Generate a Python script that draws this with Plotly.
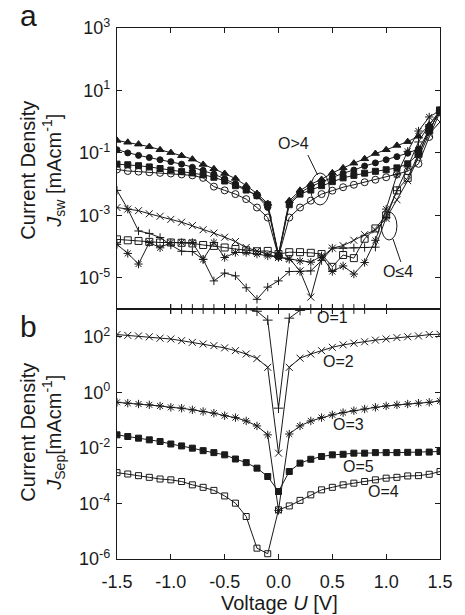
import plotly.graph_objects as go

# ---------------- data ----------------
voltage = [-1.5, -1.4, -1.3, -1.2, -1.1, -1.0, -0.9, -0.8, -0.7, -0.6, -0.5,
           -0.4, -0.3, -0.2, -0.1, 0.0, 0.1, 0.2, 0.3, 0.4, 0.5,
           0.6, 0.7, 0.8, 0.9, 1.0, 1.1, 1.2, 1.3, 1.4, 1.5]

# Panel a: J_sw, values given as log10(J)
a_tri_log = [-0.60, -0.66, -0.72, -0.80, -0.90, -0.99, -1.09, -1.20, -1.37, -1.51, -1.66,
             -1.82, -2.05, -2.30, -2.62, -4.25, -2.53, -2.20, -2.00, -1.85, -1.64,
             -1.48, -1.33, -1.19, -1.02, -0.90, -0.76, -0.64, -0.47, -0.10, 0.36]
a_fcirc_log = [-0.90, -1.00, -1.08, -1.15, -1.22, -1.28, -1.36, -1.46, -1.56, -1.68, -1.83,
               -1.99, -2.17, -2.38, -2.75, -4.28, -2.60, -2.27, -2.08, -1.93, -1.78,
               -1.65, -1.55, -1.42, -1.32, -1.22, -1.12, -1.01, -0.87, -0.28, 0.36]
a_fsq_log = [-1.36, -1.38, -1.41, -1.45, -1.50, -1.55, -1.60, -1.64, -1.70, -1.78, -1.90,
             -2.05, -2.19, -2.37, -2.66, -4.30, -2.66, -2.32, -2.19, -2.05, -1.92,
             -1.80, -1.72, -1.65, -1.59, -1.54, -1.48, -1.35, -1.03, -0.28, 0.36]
a_ocirc_log = [-1.53, -1.58, -1.60, -1.62, -1.64, -1.66, -1.69, -1.72, -1.80, -2.08, -2.20,
               -2.32, -2.48, -2.75, -3.07, -4.32, -3.07, -2.75, -2.53, -2.32, -2.21,
               -2.10, -2.02, -1.94, -1.86, -1.78, -1.68, -1.59, -1.35, -0.49, 0.31]
a_plus_log = [-2.20, -2.80, -3.50, -3.58, -3.71, -3.95, -4.15, -4.16, -4.41, -5.10, -4.85,
              -4.94, -5.32, -5.69, -5.30, -5.10, -4.80, -4.80, -4.78, -4.45, -4.05,
              -4.05, -4.04, -4.03, -4.02, -3.07, -2.21, -1.45, -0.65, -0.10, 0.30]
a_x_log = [-2.75, -2.80, -2.85, -2.95, -3.03, -3.13, -3.22, -3.33, -3.46, -3.57, -3.70,
           -3.84, -4.03, -4.14, -4.24, -4.35, -4.38, -4.78, -5.62, -4.35, -4.05,
           -3.97, -3.80, -3.62, -3.47, -3.10, -2.50, -1.89, -1.14, -0.39, -0.01]
a_ast_log = [-3.93, -4.22, -4.56, -3.87, -4.04, -3.87, -3.87, -3.87, -4.41, -3.87, -4.35,
             -4.19, -4.19, -4.24, -4.30, -4.35, -4.41, -4.46, -4.50, -4.30, -4.80,
             -4.62, -4.88, -4.51, -3.80, -2.80, -1.70, -0.95, -0.30, 0.15, 0.36]
a_osq_log = [-3.77, -3.80, -3.82, -3.85, -3.87, -3.87, -3.88, -3.90, -3.95, -3.98, -4.03,
             -4.08, -4.12, -4.15, -4.14, -4.24, -4.18, -4.18, -4.20, -4.24, -4.65,
             -4.27, -4.37, -3.75, -3.42, -3.00, -2.20, -1.80, -1.03, -0.28, 0.36]

# Panel b: J_Sep, values given as log10(J); None = beyond the top of the axis
b_o1_log = [None, None, None, None, None, 3.0, 3.0, 3.0, 3.0, 3.0, 3.0,
            3.0, 3.0, 2.92, 2.60, -0.57, 2.67, 2.95, 3.0, 3.0, 3.0,
            3.0, 3.0, 3.0, None, None, None, None, None, None, None]
b_o2_log = [2.08, 2.05, 2.03, 2.00, 1.95, 1.92, 1.86, 1.80, 1.74, 1.68, 1.60,
            1.50, 1.38, 1.22, 0.90, -2.19, 0.90, 1.23, 1.38, 1.50, 1.62,
            1.71, 1.77, 1.82, 1.88, 1.92, 1.97, 2.00, 2.03, 2.08, 2.09]
b_o3_log = [-0.36, -0.39, -0.42, -0.45, -0.49, -0.54, -0.57, -0.63, -0.69, -0.75, -0.84,
            -0.91, -1.03, -1.21, -1.53, -4.25, -1.50, -1.21, -1.03, -0.91, -0.81,
            -0.73, -0.66, -0.60, -0.54, -0.49, -0.45, -0.42, -0.39, -0.36, -0.31]
b_o5_log = [-1.53, -1.59, -1.65, -1.71, -1.77, -1.86, -1.93, -2.01, -2.10, -2.17, -2.25,
            -2.40, -2.53, -2.73, -3.03, -3.57, -2.85, -2.55, -2.41, -2.31, -2.25,
            -2.23, -2.19, -2.19, -2.17, -2.17, -2.17, -2.16, -2.16, -2.15, -2.13]
b_o4_log = [-2.89, -2.94, -3.00, -3.06, -3.12, -3.15, -3.21, -3.33, -3.42, -3.53, -3.73,
            -3.99, -4.47, -5.61, -5.81, -4.23, -4.09, -3.89, -3.69, -3.51, -3.42,
            -3.33, -3.27, -3.21, -3.15, -3.09, -3.06, -3.01, -3.00, -2.95, -2.85]

a_tickvals = [1e3, 1e1, 1e-1, 1e-3, 1e-5]
a_ticktext = ["10<sup>3</sup>", "10<sup>1</sup>", "10<sup>-1</sup>", "10<sup>-3</sup>", "10<sup>-5</sup>"]
b_tickvals = [1e2, 1e0, 1e-2, 1e-4, 1e-6]
b_ticktext = ["10<sup>2</sup>", "10<sup>0</sup>", "10<sup>-2</sup>", "10<sup>-4</sup>", "10<sup>-6</sup>"]
x_tickvals = [-1.5, -1.0, -0.5, 0.0, 0.5, 1.0, 1.5]
x_ticktext = ["-1.5", "-1.0", "-0.5", "0.0", "0.5", "1.0", "1.5"]

# ---------------- figure ----------------
INK = "#1a1a1a"
FONT = "Liberation Sans, Arial, Helvetica, sans-serif"


def lin(vals):
    return [None if v is None else 10 ** v for v in vals]


fig = go.Figure()


def add(vals, symbol, size, xa, ya, clip=True, lw=1.0):
    fig.add_trace(go.Scatter(
        x=voltage, y=lin(vals), mode="lines+markers", xaxis=xa, yaxis=ya,
        line=dict(color=INK, width=1),
        marker=dict(symbol=symbol, size=size, color=INK,
                    line=dict(color=INK, width=lw)),
        cliponaxis=clip, hoverinfo="skip"))


# panel a
add(a_osq_log, "square-open", 7, "x", "y")
add(a_ast_log, "asterisk-open", 7, "x", "y")
add(a_x_log, "x-thin-open", 7, "x", "y")
add(a_plus_log, "cross-thin-open", 6, "x", "y")
add(a_ocirc_log, "circle-open", 7, "x", "y")
add(a_fsq_log, "square", 6, "x", "y")
add(a_fcirc_log, "circle", 6, "x", "y")
add(a_tri_log, "triangle-up", 7, "x", "y")

# panel b
add(b_o1_log, "cross-thin-open", 7, "x2", "y2", clip=False)
add(b_o2_log, "x-thin-open", 7, "x2", "y2")
add(b_o3_log, "asterisk-open", 7, "x2", "y2")
add(b_o5_log, "square", 6, "x2", "y2")
add(b_o4_log, "square-open", 6, "x2", "y2")

split = 250 / 531.0

common_x = dict(range=[-1.5, 1.5], tickvals=x_tickvals, ticktext=x_ticktext,
                ticks="inside", ticklen=5, tickwidth=1, tickcolor=INK,
                showline=True, linecolor=INK, linewidth=1.3, mirror="ticks",
                showgrid=False, zeroline=False)
common_y = dict(type="log", range=[-6, 3], ticks="inside", ticklen=5, tickwidth=1,
                tickcolor=INK, showline=True, linecolor=INK, linewidth=1.3,
                mirror="ticks", showgrid=False, zeroline=False,
                tickfont=dict(size=18, color=INK), ticklabelstandoff=2)

fig.update_layout(
    width=465, height=615,
    margin=dict(l=117, r=18, t=28, b=56, pad=0),
    plot_bgcolor="white", paper_bgcolor="white",
    showlegend=False,
    font=dict(family=FONT, size=18, color=INK),
    xaxis=dict(common_x, anchor="y", domain=[0, 1], showticklabels=False),
    yaxis=dict(common_y, anchor="x", domain=[split, 1],
               tickvals=a_tickvals, ticktext=a_ticktext),
    xaxis2=dict(common_x, anchor="y2", domain=[0, 1],
                tickfont=dict(size=18, color=INK), ticklabelstandoff=6),
    yaxis2=dict(common_y, anchor="x2", domain=[0, split],
                tickvals=b_tickvals, ticktext=b_ticktext),
)


def px2paper(px, py):
    return (px - 117) / 330.0, (559 - py) / 531.0


annotations = []


def note(text, px, py, size=16, angle=0, xanchor="center", yanchor="middle"):
    x, y = px2paper(px, py)
    annotations.append(dict(text=text, x=x, y=y, xref="paper", yref="paper",
                            showarrow=False, textangle=angle,
                            xanchor=xanchor, yanchor=yanchor,
                            font=dict(family=FONT, size=size, color=INK)))


note("a", 27, 16, size=30)
note("b", 27, 326, size=30)
note("Current Density<br><i>J</i><sub>sw</sub> [mAcm<sup>-1</sup>]", 40, 170, size=20, angle=-90)
note("Current Density<br><i>J</i><sub>Sep</sub>[mAcm<sup>-1</sup>]", 40, 432, size=20, angle=-90)
note("Voltage <i>U</i> [V]", 283, 603, size=20)
note("O&gt;4", 297, 144)
note("O≤4", 404, 271)
note("O=1", 337, 318)
note("O=2", 343, 361)
note("O=3", 354, 424)
note("O=5", 364, 466)
note("O=4", 389, 491)
fig.update_layout(annotations=annotations)

shapes = []


def ellipse(px0, py0, px1, py1):
    x0, y0 = px2paper(px0, py1)
    x1, y1 = px2paper(px1, py0)
    shapes.append(dict(type="circle", xref="paper", yref="paper",
                       x0=x0, x1=x1, y0=y0, y1=y1,
                       line=dict(color=INK, width=1)))


def segment(px0, py0, px1, py1):
    x0, y0 = px2paper(px0, py0)
    x1, y1 = px2paper(px1, py1)
    shapes.append(dict(type="line", xref="paper", yref="paper",
                       x0=x0, x1=x1, y0=y0, y1=y1,
                       line=dict(color=INK, width=1)))


ellipse(315, 173, 334, 205)
segment(312, 155, 322, 175)
ellipse(387, 212, 403, 240)
segment(399, 239, 407, 262)
fig.update_layout(shapes=shapes)

fig.write_html("out.html", config={"displayModeBar": False},
               post_script="document.body.style.margin='0';")
